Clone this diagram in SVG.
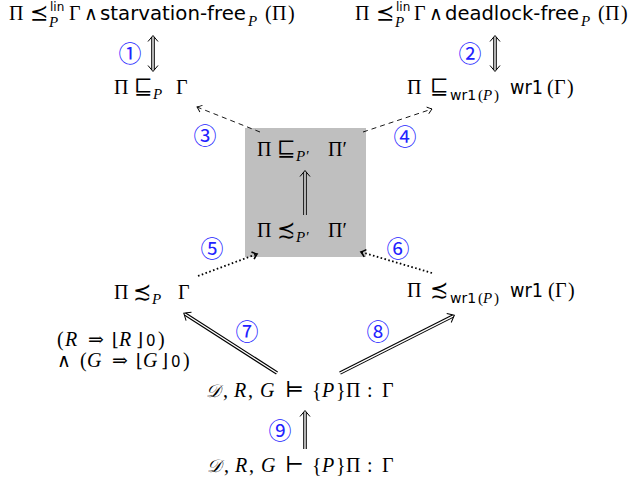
<svg xmlns="http://www.w3.org/2000/svg" width="633" height="482" viewBox="0 0 633 482">
<style>
text{fill:#000}
.m{font-family:"Liberation Serif","DejaVu Serif",serif;font-size:20px}
.i{font-style:italic}
.sub{font-size:15px}
.s{font-family:"DejaVu Sans","Liberation Sans",sans-serif;font-size:19px}
.ss{font-family:"DejaVu Sans","Liberation Sans",sans-serif;font-size:12px}
.sw{font-family:"DejaVu Sans","Liberation Sans",sans-serif;font-size:14px}
.sy{font-family:"DejaVu Serif","DejaVu Sans",serif;font-size:19px}
.rel{font-family:"DejaVu Serif","DejaVu Sans",serif;font-size:22px}
.fl{font-family:"DejaVu Serif","DejaVu Sans",serif;font-size:18px}
.z{font-family:"DejaVu Sans","Liberation Sans",sans-serif;font-size:15px}
.num{font-family:"Noto Sans CJK JP","DejaVu Serif",sans-serif;font-size:23px;fill:#2222ff;text-anchor:middle}
.dbo{fill:none;stroke:#000;stroke-width:3.6}
.dbi{fill:none;stroke:#fff;stroke-width:1.4}
.dash{fill:none;stroke:#000;stroke-width:0.9;stroke-dasharray:5 4}
.dot{fill:none;stroke:#000;stroke-width:1.8;stroke-dasharray:1.6 2.4}
</style>
<defs>
<marker id="dh" markerUnits="userSpaceOnUse" viewBox="-10 -8 14 16" refX="-1.5" refY="0" markerWidth="14" markerHeight="16" orient="auto-start-reverse">
<path d="M-6,-5 Q-2,-1.6 0,0 Q-2,1.6 -6,5" fill="none" stroke="#000" stroke-width="1"/>
</marker>
<marker id="sh" markerUnits="userSpaceOnUse" viewBox="-8 -6 10 12" refX="0" refY="0" markerWidth="10" markerHeight="12" orient="auto">
<path d="M-4.5,-3.5 Q-1.5,-1 0,0 Q-1.5,1 -4.5,3.5" fill="none" stroke="#000" stroke-width="0.9"/>
</marker>
<marker id="th" markerUnits="userSpaceOnUse" viewBox="-8 -6 10 12" refX="0" refY="0" markerWidth="10" markerHeight="12" orient="auto">
<path d="M-4.5,-3.8 Q-1.5,-1 0,0 Q-1.5,1 -4.5,3.8" fill="none" stroke="#000" stroke-width="1.6"/>
</marker>
</defs>
<rect id="box" x="245" y="128" width="121" height="129" fill="#bfbfbf"/>
<g id="connectors">
<path class="dbo" d="M153,37 V70"/><path class="dbi" d="M153,37 V70" marker-start="url(#dh)" marker-end="url(#dh)"/>
<path class="dbo" d="M495,37 V70"/><path class="dbi" d="M495,37 V70" marker-start="url(#dh)" marker-end="url(#dh)"/>
<path class="dash" d="M260,132 L197,107" marker-end="url(#sh)"/>
<path class="dash" d="M363,132 L432,109" marker-end="url(#sh)"/>
<path class="dbo" d="M305,215 V172"/><path class="dbi" d="M305,215 V172" marker-end="url(#dh)"/>
<path class="dot" d="M198,276 L257,254" marker-end="url(#th)"/>
<path class="dot" d="M432,273 L361,252" marker-end="url(#th)"/>
<path class="dbo" d="M277,373 L185,314"/><path class="dbi" d="M277,373 L185,314" marker-end="url(#dh)"/>
<path class="dbo" d="M340,373 L453,316"/><path class="dbi" d="M340,373 L453,316" marker-end="url(#dh)"/>
<path class="dbo" d="M305,449 V412"/><path class="dbi" d="M305,449 V412" marker-end="url(#dh)"/>
</g>
<g id="labels">
<text class="num" x="130" y="62">①</text>
<text class="num" x="470" y="62">②</text>
<text class="num" x="205" y="144">③</text>
<text class="num" x="405" y="145">④</text>
<text class="num" x="212" y="257">⑤</text>
<text class="num" x="398" y="257">⑥</text>
<text class="num" x="247" y="340">⑦</text>
<text class="num" x="378" y="340">⑧</text>
<text class="num" x="280" y="439">⑨</text>
</g>
<g id="n1">
<text class="m" x="9" y="20">Π</text>
<text class="rel" x="30" y="20" font-size="20">⪯</text>
<text class="ss" x="50" y="11">lin</text>
<text class="m i sub" x="49" y="27">P</text>
<text class="m" x="69" y="20">Γ</text>
<text class="sy" x="84" y="20">∧</text>
<text class="s" x="100" y="20" textLength="146" lengthAdjust="spacingAndGlyphs">starvation-free</text>
<text class="m i sub" x="248" y="26">P</text>
<text class="m" y="20"><tspan x="265">(</tspan><tspan x="272">Π</tspan><tspan x="288">)</tspan></text>
</g>
<g id="n2">
<text class="m" x="355" y="20">Π</text>
<text class="rel" x="376" y="20" font-size="20">⪯</text>
<text class="ss" x="396" y="11">lin</text>
<text class="m i sub" x="395" y="27">P</text>
<text class="m" x="414" y="20">Γ</text>
<text class="sy" x="429" y="20">∧</text>
<text class="s" x="445" y="20" textLength="134" lengthAdjust="spacingAndGlyphs">deadlock-free</text>
<text class="m i sub" x="581" y="26">P</text>
<text class="m" y="20"><tspan x="598">(</tspan><tspan x="605">Π</tspan><tspan x="621">)</tspan></text>
</g>
<g id="n3">
<text class="m" x="114" y="94">Π</text>
<text class="rel" x="134" y="94">⊑</text>
<text class="m i sub" x="153" y="99">P</text>
<text class="m" x="176" y="94">Γ</text>
</g>
<g id="n4">
<text class="m" x="407" y="94">Π</text>
<text class="rel" x="430" y="94">⊑</text>
<text class="sw" x="450" y="100">wr1</text>
<text class="m sub" y="100"><tspan x="478">(</tspan><tspan class="i" x="483">P</tspan><tspan x="494">)</tspan></text>
<text class="s" x="510" y="94" textLength="33" lengthAdjust="spacingAndGlyphs">wr1</text>
<text class="m" y="94"><tspan x="547">(</tspan><tspan x="554">Γ</tspan><tspan x="567">)</tspan></text>
</g>
<g id="n5">
<text class="m" x="257" y="156">Π</text>
<text class="rel" x="277" y="156">⊑</text>
<text class="m i sub" x="296" y="161">P′</text>
<text class="m" x="328" y="156">Π′</text>
</g>
<g id="n6">
<text class="m" x="257" y="237">Π</text>
<text class="rel" x="277" y="237">≾</text>
<text class="m i sub" x="296" y="242">P′</text>
<text class="m" x="328" y="237">Π′</text>
</g>
<g id="n7">
<text class="m" x="114" y="299">Π</text>
<text class="rel" x="133" y="299">≾</text>
<text class="m i sub" x="152" y="304">P</text>
<text class="m" x="178" y="299">Γ</text>
</g>
<g id="n8">
<text class="m" x="407" y="297">Π</text>
<text class="rel" x="430" y="297">≾</text>
<text class="sw" x="450" y="303">wr1</text>
<text class="m sub" y="303"><tspan x="478">(</tspan><tspan class="i" x="483">P</tspan><tspan x="494">)</tspan></text>
<text class="s" x="510" y="297" textLength="33" lengthAdjust="spacingAndGlyphs">wr1</text>
<text class="m" y="297"><tspan x="548">(</tspan><tspan x="555">Γ</tspan><tspan x="568">)</tspan></text>
</g>
<g id="n9">
<text class="m" y="346"><tspan x="57">(</tspan><tspan class="i" x="65">R</tspan><tspan class="sy" x="88">⇒</tspan><tspan class="fl" x="112">⌊</tspan><tspan class="i" x="119">R</tspan><tspan class="fl" x="136">⌋</tspan><tspan class="z" x="146">0</tspan><tspan x="158">)</tspan></text>
<text class="m" y="367"><tspan class="sy" x="57">∧</tspan><tspan x="80">(</tspan><tspan class="i" x="87">G</tspan><tspan class="sy" x="112">⇒</tspan><tspan class="fl" x="136">⌊</tspan><tspan class="i" x="143">G</tspan><tspan class="fl" x="161">⌋</tspan><tspan class="z" x="171">0</tspan><tspan x="183">)</tspan></text>
</g>
<g id="n10">
<text class="m" y="397"><tspan class="i" x="206" font-size="18">𝒟</tspan><tspan x="223">,</tspan><tspan class="i" x="234">R</tspan><tspan x="248">,</tspan><tspan class="i" x="260">G</tspan><tspan class="rel" x="285">⊨</tspan><tspan x="312">{</tspan><tspan class="i" x="322">P</tspan><tspan x="336">}</tspan><tspan x="346">Π</tspan><tspan x="367">:</tspan><tspan x="382">Γ</tspan></text>
</g>
<g id="n11">
<text class="m" y="472"><tspan class="i" x="207" font-size="18">𝒟</tspan><tspan x="224">,</tspan><tspan class="i" x="235">R</tspan><tspan x="249">,</tspan><tspan class="i" x="261">G</tspan><tspan class="rel" x="285">⊢</tspan><tspan x="312">{</tspan><tspan class="i" x="322">P</tspan><tspan x="336">}</tspan><tspan x="346">Π</tspan><tspan x="367">:</tspan><tspan x="382">Γ</tspan></text>
</g>
</svg>
